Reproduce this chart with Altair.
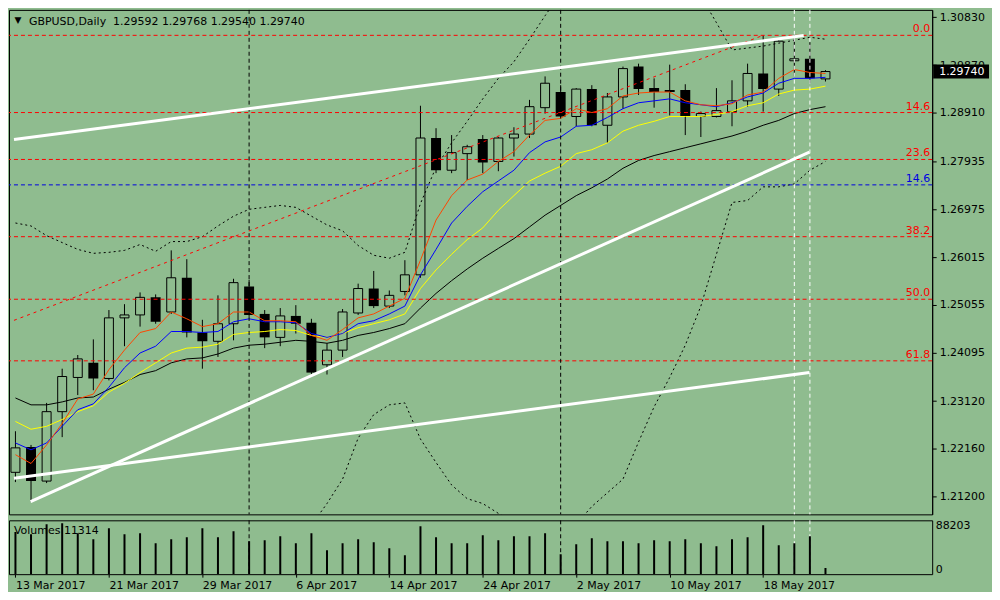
import altair as alt
import pandas as pd

BG = "#8FBC8F"
FONT = "DejaVu Sans"
W, H1, H2 = 926, 506, 54

# ---------------- data ----------------
date_ticks = [0, 6, 12, 18, 24, 30, 36, 42, 48]
date_labels = ["13 Mar 2017", "21 Mar 2017", "29 Mar 2017", "6 Apr 2017", "14 Apr 2017",
               "24 Apr 2017", "2 May 2017", "10 May 2017", "18 May 2017"]

opens = [1.21691, 1.22202, 1.21515, 1.22909, 1.23596, 1.23890, 1.23576, 1.24793, 1.24852, 1.25205,
         1.24911, 1.25598, 1.24499, 1.24322, 1.24675, 1.25421, 1.24872, 1.24401, 1.24832, 1.24695,
         1.23851, 1.24145, 1.24891, 1.25382, 1.25029, 1.25323, 1.25657, 1.28405, 1.27758, 1.28091,
         1.28386, 1.27934, 1.28405, 1.28484, 1.29014, 1.29328, 1.28837, 1.29387, 1.28661, 1.29230,
         1.29839, 1.29407, 1.29367, 1.29367, 1.28837, 1.28837, 1.28935, 1.29151, 1.29701, 1.29387,
         1.29956, 1.29996, 1.29592]
highs = [1.22516, 1.22241, 1.23085, 1.23772, 1.24047, 1.24361, 1.24950, 1.25068, 1.25304, 1.25264,
         1.26148, 1.25971, 1.24754, 1.25245, 1.25578, 1.25559, 1.24950, 1.24990, 1.25048, 1.24774,
         1.24283, 1.24970, 1.25480, 1.25735, 1.25343, 1.25951, 1.29053, 1.28602, 1.28464, 1.28268,
         1.28464, 1.28425, 1.28621, 1.29171, 1.29642, 1.29466, 1.29407, 1.29466, 1.29309, 1.29839,
         1.29898, 1.29603, 1.29878, 1.29485, 1.28935, 1.29407, 1.29564, 1.29898, 1.30467, 1.30369,
         1.30486, 1.30329, 1.29768]
lows = [1.21495, 1.21102, 1.21475, 1.22398, 1.23242, 1.23340, 1.23537, 1.24224, 1.24617, 1.24675,
        1.24872, 1.24401, 1.23772, 1.24008, 1.24342, 1.24813, 1.24185, 1.24224, 1.24479, 1.23655,
        1.23655, 1.24008, 1.24852, 1.24990, 1.24990, 1.25245, 1.25598, 1.27699, 1.27699, 1.27561,
        1.27699, 1.27738, 1.28032, 1.28405, 1.28896, 1.28818, 1.28641, 1.28641, 1.28307, 1.28994,
        1.29269, 1.29014, 1.28857, 1.28464, 1.28425, 1.28818, 1.28641, 1.29034, 1.28935, 1.29250,
        1.29642, 1.29505, 1.29540]
closes = [1.22182, 1.21515, 1.22909, 1.23615, 1.23969, 1.23576, 1.24793, 1.24852, 1.25205, 1.24715,
          1.25598, 1.24499, 1.24322, 1.24675, 1.25500, 1.24852, 1.24401, 1.24832, 1.24675, 1.23694,
          1.24145, 1.24911, 1.25382, 1.25029, 1.25245, 1.25657, 1.28405, 1.27758, 1.28111, 1.28229,
          1.27915, 1.28405, 1.28484, 1.29034, 1.29505, 1.28837, 1.29387, 1.28661, 1.29230, 1.29799,
          1.29387, 1.29328, 1.29328, 1.28837, 1.28896, 1.28955, 1.29151, 1.29701, 1.29387, 1.30349,
          1.29996, 1.29603, 1.29740]
volumes = [76100, 72000, 90000, 91800, 73800, 63000, 82800, 72000, 73800, 55800,
           63000, 66600, 82800, 66600, 77400, 59400, 61200, 68400, 55800, 73800,
           43200, 55800, 63000, 57600, 46800, 34200, 86400, 66600, 55800, 55800,
           70200, 61200, 68400, 68400, 73800, 36000, 54000, 64800, 59400, 59400,
           55800, 61200, 59400, 63000, 55800, 50400, 63000, 66600, 88203, 52200,
           55800, 68400, 11314]

ma_red = [1.22045, 1.21868, 1.22241, 1.22673, 1.23164, 1.23262, 1.23753, 1.24146, 1.24499, 1.24578,
          1.24911, 1.24774, 1.24617, 1.24676, 1.24911, 1.24911, 1.24735, 1.24735, 1.24715, 1.24440,
          1.24342, 1.24558, 1.24793, 1.24872, 1.25029, 1.25186, 1.25951, 1.26757, 1.27248, 1.27561,
          1.27680, 1.27934, 1.28131, 1.28464, 1.28759, 1.28799, 1.28994, 1.28916, 1.28994, 1.29250,
          1.29309, 1.29328, 1.29328, 1.29151, 1.29073, 1.29053, 1.29093, 1.29269, 1.29328, 1.29603,
          1.29780, 1.29721, 1.29701]
ma_blue = [1.22281, 1.22143, 1.22281, 1.22615, 1.22948, 1.23066, 1.23400, 1.23792, 1.24087, 1.24224,
           1.24519, 1.24519, 1.24499, 1.24519, 1.24715, 1.24774, 1.24715, 1.24715, 1.24695, 1.24479,
           1.24401, 1.24479, 1.24676, 1.24735, 1.24872, 1.25029, 1.25657, 1.26168, 1.26698, 1.27032,
           1.27326, 1.27542, 1.27758, 1.28111, 1.28327, 1.28425, 1.28641, 1.28661, 1.28818, 1.28994,
           1.29113, 1.29151, 1.29191, 1.29113, 1.29073, 1.29034, 1.29113, 1.29230, 1.29309, 1.29505,
           1.29603, 1.29603, 1.29623]
ma_yellow = [1.22713, 1.22556, 1.22615, 1.22752, 1.22909, 1.23027, 1.23302, 1.23478, 1.23694, 1.23890,
             1.24087, 1.24185, 1.24205, 1.24264, 1.24460, 1.24499, 1.24519, 1.24558, 1.24538, 1.24440,
             1.24401, 1.24479, 1.24597, 1.24676, 1.24754, 1.24872, 1.25382, 1.25756, 1.26070, 1.26364,
             1.26600, 1.26953, 1.27248, 1.27542, 1.27699, 1.27837, 1.28091, 1.28170, 1.28307, 1.28543,
             1.28661, 1.28740, 1.28837, 1.28837, 1.28837, 1.28877, 1.28935, 1.29053, 1.29113, 1.29289,
             1.29367, 1.29387, 1.29446]
ma_black = [1.23184, 1.23046, 1.23046, 1.23105, 1.23184, 1.23203, 1.23360, 1.23498, 1.23655, 1.23733,
            1.23890, 1.23969, 1.23989, 1.24067, 1.24185, 1.24244, 1.24264, 1.24303, 1.24342, 1.24322,
            1.24283, 1.24342, 1.24440, 1.24499, 1.24578, 1.24676, 1.24990, 1.25284, 1.25540, 1.25775,
            1.25991, 1.26188, 1.26384, 1.26619, 1.26855, 1.27051, 1.27248, 1.27405, 1.27581, 1.27797,
            1.27954, 1.28053, 1.28131, 1.28210, 1.28288, 1.28367, 1.28445, 1.28543, 1.28661, 1.28759,
            1.28896, 1.28975, 1.29034]
bb_upper = [1.26698, 1.26639, 1.26443, 1.26305, 1.26168, 1.26089, 1.26109, 1.26148, 1.26266, 1.26129,
            1.26325, 1.26325, 1.26423, 1.26639, 1.26835, 1.26973, 1.27012, 1.27051, 1.27012, 1.26835,
            1.26659, 1.26541, 1.26246, 1.26050, 1.25991, 1.26109, 1.27090, 1.27817, 1.28307, 1.28740,
            1.29191, 1.29603, 1.29937, 1.30389, 1.30860, 1.31311, 1.31704, 1.32001, 1.32195, 1.32293,
            1.32234, 1.32097, 1.31900, 1.31606, 1.31253, 1.30722, 1.30173, 1.30212, 1.30251, 1.30310,
            1.30369, 1.30428, 1.30389]
bb_lower = [1.19238, 1.19041, 1.18845, 1.18747, 1.18688, 1.18649, 1.18649, 1.18688, 1.18747, 1.18845,
            1.19041, 1.19238, 1.19434, 1.19532, 1.19729, 1.19925, 1.20121, 1.20318, 1.20475, 1.20632,
            1.21064, 1.21554, 1.22379, 1.22850, 1.23046, 1.23085, 1.22359, 1.21888, 1.21437, 1.21162,
            1.21064, 1.20867, 1.20691, 1.20514, 1.20416, 1.20416, 1.20651, 1.21005, 1.21280, 1.21554,
            1.22300, 1.23007, 1.23596, 1.24244, 1.25029, 1.26070, 1.27110, 1.27150, 1.27424, 1.27424,
            1.27483, 1.27758, 1.27934]

fib_levels = [1.30467, 1.28916, 1.27974, 1.26423, 1.25167, 1.23930]
fib_labels = ["0.0", "14.6", "23.6", "38.2", "50.0", "61.8"]
blue_levels = [1.27464]
blue_labels = ["14.6"]

black_vlines = [15, 35]
white_vlines = [50, 51]

trend_id = ["up", "up", "low1", "low1", "low2", "low2"]
trend_bar = [-0.094, 50.6, 0.97, 50.97, -0.094, 50.97]
trend_price = [1.28373, 1.30463, 1.21102, 1.28120, 1.21574, 1.23694]
diag_bar = [-0.094, 48]
diag_price = [1.24743, 1.30467]

y_ticks = [1.30830, 1.29870, 1.28910, 1.27935, 1.26975, 1.26015, 1.25055, 1.24095,
           1.23120, 1.22160, 1.21200]
last_price = 1.29740
header = "GBPUSD,Daily\u00a0\u00a01.29592 1.29768 1.29540 1.29740"
vol_label = "Volumes 11314"

# ---------------- frames ----------------
n = len(opens)
df = pd.DataFrame({
    "i": list(range(n)), "open": opens, "high": highs, "low": lows, "close": closes,
    "red": ma_red, "blue": ma_blue, "yellow": ma_yellow, "black": ma_black,
    "bbu": bb_upper, "bbl": bb_lower, "vol": volumes,
})
df_up = df[df["close"] >= df["open"]]
df_dn = df[df["close"] < df["open"]]
fib_df = pd.DataFrame({"level": fib_levels, "label": fib_labels})
blue_df = pd.DataFrame({"level": blue_levels, "label": blue_labels})
bvl = pd.DataFrame({"bar": black_vlines})
wvl = pd.DataFrame({"bar": white_vlines})
trend_df = pd.DataFrame({"id": trend_id, "bar": trend_bar, "price": trend_price})
diag_df = pd.DataFrame({"bar": diag_bar, "price": diag_price})
price_df = pd.DataFrame({"p": [last_price], "t": [f"{last_price:.5f}"]})

xs = alt.Scale(domain=[-0.094, 58.53], nice=False, zero=False)
ys = alt.Scale(domain=[1.20847, 1.30978], nice=False, zero=False)
yaxis = alt.Axis(orient="right", values=y_ticks, format=".5f", tickSize=4, labelPadding=3,
                 grid=False, title=None)


def X(f):
    return alt.X(f, type="quantitative", scale=xs, axis=None, title=None)


def Y(f):
    return alt.Y(f, type="quantitative", scale=ys, axis=yaxis, title=None)


wicks = alt.Chart(df).mark_rule(color="black", strokeWidth=1, clip=True).encode(
    x=X("i"), y=Y("low"), y2="high")
body_up = alt.Chart(df_up).mark_bar(size=9, fill=BG, stroke="black", strokeWidth=1, clip=True).encode(
    x=X("i"), y=Y("open"), y2="close")
body_dn = alt.Chart(df_dn).mark_bar(size=10, color="black", clip=True).encode(
    x=X("i"), y=Y("open"), y2="close")

bb_u = alt.Chart(df).mark_line(color="black", strokeWidth=1, strokeDash=[2, 3], clip=True).encode(
    x=X("i"), y=Y("bbu"))
bb_l = alt.Chart(df).mark_line(color="black", strokeWidth=1, strokeDash=[2, 3], clip=True).encode(
    x=X("i"), y=Y("bbl"))
ma_lines = [
    alt.Chart(df).mark_line(color=c, strokeWidth=1, clip=True).encode(x=X("i"), y=Y(f))
    for f, c in [("black", "#000000"), ("yellow", "#FFFF00"), ("blue", "#0000FF"), ("red", "#FF4500")]
]

fib_rules = alt.Chart(fib_df).mark_rule(color="#FF0000", strokeWidth=1, strokeDash=[4, 3]).encode(
    y=Y("level"))
fib_text = alt.Chart(fib_df).mark_text(color="#FF0000", align="right", baseline="bottom", dx=-2, dy=-1,
                                       font=FONT, fontSize=11).encode(
    x=alt.value(W), y=Y("level"), text="label")
blue_rules = alt.Chart(blue_df).mark_rule(color="#0000E0", strokeWidth=1, strokeDash=[4, 3]).encode(
    y=Y("level"))
blue_text = alt.Chart(blue_df).mark_text(color="#0000E0", align="right", baseline="bottom", dx=-2, dy=-1,
                                         font=FONT, fontSize=11).encode(
    x=alt.value(W), y=Y("level"), text="label")

vl_black = alt.Chart(bvl).mark_rule(color="black", strokeWidth=1, strokeDash=[4, 3]).encode(x=X("bar"))
vl_white = alt.Chart(wvl).mark_rule(color="white", strokeWidth=1, strokeDash=[4, 3]).encode(x=X("bar"))

diag = alt.Chart(diag_df).mark_line(color="#FF0000", strokeWidth=1, strokeDash=[3, 4], clip=True).encode(
    x=X("bar"), y=Y("price"))
trends = alt.Chart(trend_df).mark_line(color="white", strokeWidth=3, clip=True).encode(
    x=X("bar"), y=Y("price"), detail="id")

tri = alt.Chart(pd.DataFrame({"t": ["\u25BC"]})).mark_text(
    font=FONT, fontSize=9, color="black", align="center", baseline="middle").encode(
    x=alt.value(9), y=alt.value(10), text="t")
head = alt.Chart(pd.DataFrame({"t": [header]})).mark_text(
    font=FONT, fontSize=11, color="black", align="left", baseline="alphabetic").encode(
    x=alt.value(20), y=alt.value(15), text="t")

pbox = alt.Chart(price_df).mark_point(
    shape="M-1,-0.25L1,-0.25L1,0.25L-1,0.25Z", filled=True, color="black", opacity=1,
    size=3136, strokeWidth=0, clip=False).encode(x=alt.value(W + 29), y=Y("p"))
ptext = alt.Chart(price_df).mark_text(
    font=FONT, fontSize=11, color="white", align="left", baseline="middle", clip=False).encode(
    x=alt.value(W + 7), y=Y("p"), text="t")

main = alt.layer(
    wicks, body_up, body_dn, bb_u, bb_l, *ma_lines, fib_rules, blue_rules, vl_black, vl_white,
    diag, trends, fib_text, blue_text, tri, head, pbox, ptext
).properties(width=W, height=H1)

# ---------------- volume panel ----------------
label_expr = "[" + ",".join(f"'{s}'" for s in date_labels) + "][round(datum.value / 6)]"
xaxis = alt.Axis(values=date_ticks, labelExpr=label_expr, tickSize=3, labelAlign="left",
                 labelPadding=2, labelOverlap=False, grid=False, title=None, domain=False)
xs2 = alt.Scale(domain=[-0.094, 58.53], nice=False, zero=False)
vys = alt.Scale(domain=[0, 97200], nice=False, zero=False)
vaxis = alt.Axis(orient="right", values=[0, 88203], format="d", ticks=False, labelFlush=True,
                 labelPadding=3, grid=False, title=None, domain=False)

vx = alt.X("i:Q", scale=xs2, axis=xaxis, title=None)
v_black = alt.Chart(bvl).mark_rule(color="black", strokeWidth=1, strokeDash=[4, 3]).encode(
    x=alt.X("bar:Q", scale=xs2, axis=xaxis, title=None))
v_white = alt.Chart(wvl).mark_rule(color="white", strokeWidth=1, strokeDash=[4, 3]).encode(
    x=alt.X("bar:Q", scale=xs2, axis=xaxis, title=None))
vbars = alt.Chart(df).mark_bar(size=2, color="black", clip=True).encode(
    x=vx, y=alt.Y("vol:Q", scale=vys, axis=vaxis, title=None))
vtext = alt.Chart(pd.DataFrame({"t": [vol_label]})).mark_text(
    font=FONT, fontSize=11, color="black", align="left", baseline="middle").encode(
    x=alt.value(5), y=alt.value(11), text="t")

volume = alt.layer(v_black, v_white, vbars, vtext).properties(width=W, height=H2)

chart = alt.vconcat(main, volume, spacing=3).resolve_scale(
    x="independent", y="independent"
).properties(
    background=BG, padding={"left": 0, "top": 0, "right": 2, "bottom": 0}
).configure_view(
    stroke="black", strokeWidth=1, fill=BG
).configure_axis(
    labelFont=FONT, labelFontSize=11, labelColor="black", tickColor="black",
    domainColor="black", grid=False
)

chart.save("out.html", embed_options={"renderer": "svg", "actions": False})
